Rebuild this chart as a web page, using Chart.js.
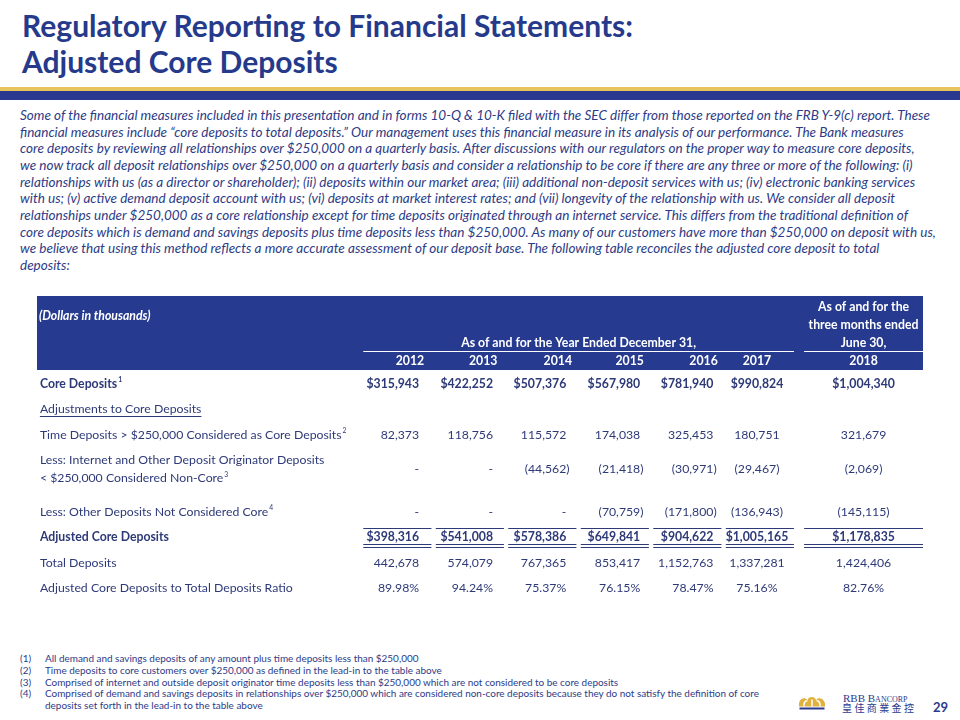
<!DOCTYPE html>
<html><head><meta charset="utf-8">
<title>Regulatory Reporting to Financial Statements: Adjusted Core Deposits</title>
<script src="https://cdn.jsdelivr.net/npm/chart.js@4.4.1/dist/chart.umd.min.js"></script>
<style>
html,body{margin:0;padding:0;background:#fff}
#slide{position:relative;width:960px;height:720px;overflow:hidden;font-family:Lato,"Open Sans",sans-serif}
.title{position:absolute;left:22px;white-space:nowrap;color:#263A8C;font-weight:700;line-height:1;font-size:26px}
#gold{position:absolute;left:0;top:87px;width:960px;height:4px;background:#E8C35B}
#navy{position:absolute;left:0;top:91px;width:960px;height:9px;background:#28398F}
#para{position:absolute;left:20px;top:107px;color:#2D3B86;font-style:italic;font-size:13px}
#para div{white-space:nowrap;height:16.67px;line-height:16.67px}
#hdrWrap{position:absolute;left:37px;top:296px;width:886px;height:74px}
#bodyWrap{position:absolute;left:37px;top:370px;width:886px;height:232px}
#notes{position:absolute;left:20px;top:653px;color:#2D3B86;font-size:10px}
#notes div{position:relative;white-space:nowrap;height:11.75px;line-height:11.75px}
#notes span.n{display:inline-block;width:25px}
#crown{position:absolute;left:798px;top:695px}
#rbb{position:absolute;left:843px;top:693px;color:#2A3A8C;font-family:"Liberation Serif","DejaVu Serif",serif;font-size:11px;font-variant:small-caps;white-space:nowrap;line-height:1}
#cn{position:absolute;left:842px;top:703px;color:#2A3A8C;font-family:"Noto Sans CJK TC","Noto Sans CJK SC",sans-serif;font-size:10px;letter-spacing:2.4px;white-space:nowrap;line-height:1}
#page{position:absolute;left:933px;top:701px;color:#2A3A8C;font-weight:700;font-size:13px;line-height:1}
</style>
</head>
<body>
<div id="slide">
  <div class="title" id="t1" style="top:10px">Regulatory Reporting to Financial Statements:</div>
  <div class="title" id="t2" style="top:46px">Adjusted Core Deposits</div>
  <div id="gold"></div><div id="navy"></div>
  <div id="para"></div>
  <div id="hdrWrap"><canvas id="hdr"></canvas></div>
  <div id="bodyWrap"><canvas id="body"></canvas></div>
  <div id="notes"></div>
  <svg id="crown" width="28" height="15" viewBox="0 0 28 15">
    <path d="M1 11.5 C0 4 6 1 9.5 5 C10.5 1 17 1 18 5 C21 1 28 4 27 11.5 Z" fill="#E0B13E"/>
    <path d="M6 11.5 C5.5 8 7 6 9.5 5.5 M14 11.5 L14 4.5 M22 11.5 C22.5 8 21 6 18.5 5.5" stroke="#fff" stroke-width="1.5" fill="none"/>
    <rect x="1.5" y="12.5" width="25" height="2" fill="#2A3A8C"/>
  </svg>
  <div id="rbb">RBB Bancorp</div>
  <div id="cn">皇佳商業金控</div>
  <div id="page">29</div>
</div>
<script>
// ---------------- DATA ----------------
const years = ['2012', '2013', '2014', '2015', '2016', '2017', '2018'];
const coreDeposits = [315943, 422252, 507376, 567980, 781940, 990824, 1004340];
const timeDepositsConsideredCore = [82373, 118756, 115572, 174038, 325453, 180751, 321679];
const internetOriginatorDeposits = [null, null, -44562, -21418, -30971, -29467, -2069];
const otherDepositsNotCore = [null, null, null, -70759, -171800, -136943, -145115];
const adjustedCoreDeposits = [398316, 541008, 578386, 649841, 904622, 1005165, 1178835];
const totalDeposits = [442678, 574079, 767365, 853417, 1152763, 1337281, 1424406];
const adjustedCoreRatio = [89.98, 94.24, 75.37, 76.15, 78.47, 75.16, 82.76];

const rowLabels = [
  'Core Deposits',
  'Adjustments to Core Deposits',
  'Time Deposits > $250,000 Considered as Core Deposits',
  ['Less: Internet and Other Deposit Originator Deposits', '< $250,000 Considered Non-Core'],
  'Less: Other Deposits Not Considered Core',
  'Adjusted Core Deposits',
  'Total Deposits',
  'Adjusted Core Deposits to Total Deposits Ratio'
];
const rowNotes = ['1', '', '2', '3', '4', '', '', ''];
const headerTexts = {
  units: '(Dollars in thousands)',
  annual: 'As of and for the Year Ended December 31,',
  interim: ['As of and for the', 'three months ended', 'June 30,']
};

const paragraphLines = [
  'Some of the financial measures included in this presentation and in forms 10-Q & 10-K filed with the SEC differ from those reported on the FRB Y-9(c) report. These',
  'financial measures include \u201ccore deposits to total deposits.\u201d Our management uses this financial measure in its analysis of our performance. The Bank measures',
  'core deposits by reviewing all relationships over $250,000 on a quarterly basis. After discussions with our regulators on the proper way to measure core deposits,',
  'we now track all deposit relationships over $250,000 on a quarterly basis and consider a relationship to be core if there are any three or more of the following: (i)',
  'relationships with us (as a director or shareholder); (ii) deposits within our market area; (iii) additional non-deposit services with us; (iv) electronic banking services',
  'with us; (v) active demand deposit account with us; (vi) deposits at market interest rates; and (vii) longevity of the relationship with us. We consider all deposit',
  'relationships under $250,000 as a core relationship except for time deposits originated through an internet service. This differs from the traditional definition of',
  'core deposits which is demand and savings deposits plus time deposits less than $250,000. As many of our customers have more than $250,000 on deposit with us,',
  'we believe that using this method reflects a more accurate assessment of our deposit base. The following table reconciles the adjusted core deposit to total',
  'deposits:'
];
const footnotes = [
  ['(1)', 'All demand and savings deposits of any amount plus time deposits less than $250,000'],
  ['(2)', 'Time deposits to core customers over $250,000 as defined in the lead-in to the table above'],
  ['(3)', 'Comprised of internet and outside deposit originator time deposits less than $250,000 which are not considered to be core deposits'],
  ['(4)', 'Comprised of demand and savings deposits in relationships over $250,000 which are considered non-core deposits because they do not satisfy the definition of core'],
  ['', 'deposits set forth in the lead-in to the table above']
];

// ---------------- LAYOUT / STYLE ----------------
const NAVY = '#263A8F';
const TXT = '#2E3A78';
const colSpans = [[0,1],[1,2],[2,3],[3,4],[4,5],[5,6],[6.11,7.75]];
const valueAnchor = [0.80, 1.82, 2.83, 3.85, 4.86, 5.46, 6.93];
const valueAlign  = ['right','right','right','right','right','center','center'];
const yearAnchor  = [0.87, 1.88, 2.91, 3.90, 4.92, 5.46, 6.93];
const xMin = -4.47, xMax = 7.75, labelStart = -4.43;

function measure(font, text){
  const c = measure.c || (measure.c = document.createElement('canvas').getContext('2d'));
  c.font = font; return c.measureText(text).width;
}
const FAM = 'Lato, "Open Sans", sans-serif';

// Fit font sizes
const titleSize = 26 * 612 / measure('700 26px ' + FAM, 'Regulatory Reporting to Financial Statements:');
document.getElementById('t1').style.fontSize = titleSize + 'px';
document.getElementById('t2').style.fontSize = titleSize + 'px';

const paraSize = 13 * 913 / measure('italic 13px ' + FAM, paragraphLines[0]);
const para = document.getElementById('para');
para.style.fontSize = paraSize + 'px';
paragraphLines.forEach(l => { const d = document.createElement('div'); d.textContent = l; para.appendChild(d); });

const noteSize = 10 * 374 / measure('10px ' + FAM, footnotes[0][1]);
const notes = document.getElementById('notes');
notes.style.fontSize = noteSize + 'px';
footnotes.forEach(([n, t]) => {
  const d = document.createElement('div');
  const s1 = document.createElement('span'); s1.className = 'n'; s1.textContent = n;
  const s2 = document.createElement('span'); s2.textContent = t;
  d.appendChild(s1); d.appendChild(s2); notes.appendChild(d);
});

const TF = 12 * 302 / measure('12px ' + FAM, rowLabels[2]);
const fnt = (bold, size, italic) => (italic ? 'italic ' : '') + (bold ? '700 ' : '400 ') + size.toFixed(2) + 'px ' + FAM;

function fmt(v, kind){
  if (v === null || v === undefined) return '-';
  if (kind === 'pct') return v.toFixed(2) + '%';
  const s = Math.abs(v).toLocaleString('en-US');
  if (v < 0) return '(' + s + ')';
  return (kind === 'dollar' ? '$' : '') + s;
}

// Rows of the table body, built from the arrays above
const bodyRows = [
  {key:'core', li:0, values: coreDeposits, kind:'dollar', bold:true},
  {key:'adj', li:1, underline:true},
  {key:'time', li:2, values: timeDepositsConsideredCore, kind:'num'},
  {key:'internet', li:3, values: internetOriginatorDeposits, kind:'num'},
  {key:'other', li:4, values: otherDepositsNotCore, kind:'num'},
  {key:'adjusted', li:5, values: adjustedCoreDeposits, kind:'dollar', bold:true, rules:true},
  {key:'total', li:6, values: totalDeposits, kind:'num'},
  {key:'ratio', li:7, values: adjustedCoreRatio, kind:'pct'}
];
const bodySlots = ['core','adj','time','internet','internet2','other','adjusted','total','ratio'];
const headerSlots = ['line1','line2','line3','years'];

function drawCellText(ctx, x, text, anchorVal, align, y){
  let px = x.getPixelForValue(anchorVal);
  if (align === 'right') {
    ctx.textAlign = 'right';
    if (text.endsWith(')')) px += ctx.measureText(')').width;
  } else ctx.textAlign = 'center';
  ctx.fillText(text, px, y);
}

const bodyPlugin = {
  id: 'bodyCells',
  afterDraw(chart){
    const {ctx, scales:{x, y}} = chart;
    const slot = y.getPixelForValue(1) - y.getPixelForValue(0);
    ctx.save();
    ctx.textBaseline = 'middle';
    ctx.fillStyle = TXT; ctx.strokeStyle = TXT;
    const lx = x.getPixelForValue(labelStart);
    bodyRows.forEach(r => {
      const yc = y.getPixelForValue(bodySlots.indexOf(r.key));
      const lab = rowLabels[r.li];
      const lines = Array.isArray(lab) ? lab : [lab];
      const gap = slot * 0.7;
      lines.forEach((ln, i) => {
        const ly = yc + i * gap;
        ctx.font = fnt(r.bold, TF); ctx.textAlign = 'left';
        ctx.fillText(ln, lx, ly);
        const w = ctx.measureText(ln).width;
        if (r.underline) {
          ctx.lineWidth = 1; ctx.beginPath();
          ctx.moveTo(lx, Math.round(ly + TF*0.55) + 0.5); ctx.lineTo(lx + w, Math.round(ly + TF*0.55) + 0.5); ctx.stroke();
        }
        if (i === lines.length - 1 && rowNotes[r.li]) {
          ctx.font = fnt(r.bold, TF * 0.55);
          ctx.fillText(rowNotes[r.li], lx + w + 1, ly - TF * 0.3);
        }
      });
      if (r.values) {
        const vy = yc + (lines.length - 1) * gap / 2;
        ctx.font = fnt(r.bold, TF);
        r.values.forEach((v, c) => drawCellText(ctx, x, fmt(v, r.kind), valueAnchor[c], valueAlign[c], vy));
      }
      if (r.rules) {
        ctx.lineWidth = 1;
        colSpans.forEach(([a, b], c) => {
          const x0 = x.getPixelForValue(a + (c < 6 ? 0.03 : 0)), x1 = x.getPixelForValue(b - (c < 6 ? 0.03 : 0));
          [-0.35, 0.27, 0.39].forEach(f => {
            const yy = Math.round(yc + f * slot) + 0.5;
            ctx.beginPath(); ctx.moveTo(x0, yy); ctx.lineTo(x1, yy); ctx.stroke();
          });
        });
      }
    });
    ctx.restore();
  }
};

const headerPlugin = {
  id: 'headerCells',
  beforeDraw(chart){
    const {ctx} = chart;
    ctx.save(); ctx.fillStyle = NAVY; ctx.fillRect(0, 0, chart.width, chart.height); ctx.restore();
  },
  afterDraw(chart){
    const {ctx, scales:{x, y}} = chart;
    const slot = y.getPixelForValue(1) - y.getPixelForValue(0);
    const rowY = k => y.getPixelForValue(headerSlots.indexOf(k));
    ctx.save();
    ctx.fillStyle = '#fff'; ctx.strokeStyle = '#fff'; ctx.textBaseline = 'middle';
    ctx.font = fnt(true, TF, true); ctx.textAlign = 'left';
    ctx.fillText(headerTexts.units, x.getPixelForValue(labelStart) - 1, (rowY('line1') + rowY('line2')) / 2);
    ctx.font = fnt(true, TF); ctx.textAlign = 'center';
    const c6 = (colSpans[6][0] + colSpans[6][1]) / 2;
    headerTexts.interim.forEach((t, i) => ctx.fillText(t, x.getPixelForValue(c6), rowY(headerSlots[i])));
    ctx.fillText(headerTexts.annual, x.getPixelForValue((colSpans[0][0] + colSpans[5][1]) / 2), rowY('line3'));
    ctx.lineWidth = 1.2;
    const uy = Math.round(rowY('line3') + slot * 0.45) + 0.5;
    ctx.beginPath(); ctx.moveTo(x.getPixelForValue(colSpans[0][0] + 0.03), uy); ctx.lineTo(x.getPixelForValue(colSpans[5][1] - 0.03), uy); ctx.stroke();
    ctx.beginPath(); ctx.moveTo(x.getPixelForValue(colSpans[6][0]), uy); ctx.lineTo(x.getPixelForValue(colSpans[6][1]), uy); ctx.stroke();
    years.forEach((yr, c) => {
      ctx.textAlign = valueAlign[c] === 'right' ? 'right' : 'center';
      ctx.fillText(yr, x.getPixelForValue(yearAnchor[c]), rowY('years'));
    });
    ctx.restore();
  }
};

function tableChart(id, slots, padding, plugin){
  return new Chart(document.getElementById(id), {
    type: 'scatter',
    data: { labels: slots, datasets: [] },
    options: {
      responsive: true, maintainAspectRatio: false, animation: false,
      layout: { padding: padding },
      plugins: { legend: { display: false }, tooltip: { enabled: false } },
      scales: {
        x: { type: 'linear', min: xMin, max: xMax, display: false },
        y: { type: 'category', labels: slots, offset: true, display: false }
      }
    },
    plugins: [plugin]
  });
}
tableChart('hdr', headerSlots, {top: 2, bottom: 0, left: 0, right: 0}, headerPlugin);
tableChart('body', bodySlots, {top: 1, bottom: 1, left: 0, right: 0}, bodyPlugin);
</script>
</body></html>
